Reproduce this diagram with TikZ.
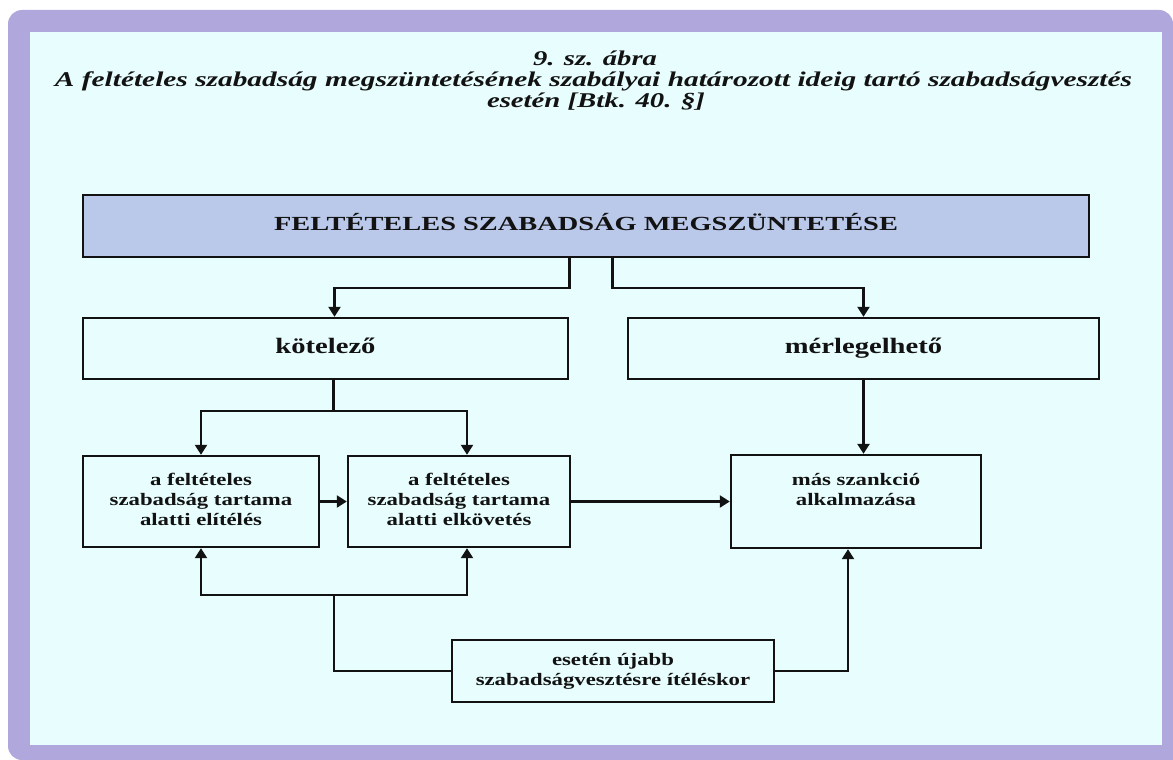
\documentclass[tikz,border=0pt]{standalone}
\usepackage{fontspec}
\setmainfont{Liberation Serif}
\usepackage{graphicx}
\usetikzlibrary{arrows.meta}
\definecolor{lav}{RGB}{176,168,221}
\definecolor{bgc}{RGB}{232,254,254}
\definecolor{topc}{RGB}{186,200,234}
\definecolor{ink}{RGB}{18,18,18}
\newcommand\wtxt[2][1.3]{\scalebox{#1}[1]{\begin{tabular}{@{}c@{}}#2\end{tabular}}}
\tikzset{
  box/.style={draw=ink, line width=2.4pt, fill=bgc, inner sep=0pt, text=ink},
  lbl/.style={font=\fontsize{22}{26}\selectfont\bfseries},
  sml/.style={font=\fontsize{17.5}{20}\selectfont\bfseries},
  arr/.style={draw=ink, line width=2.3pt, -{Triangle[length=10pt,width=12pt]}},
  ttl/.style={font=\fontsize{21}{24}\selectfont\bfseries\itshape, text=ink, inner sep=0pt}
}
\begin{document}
\begin{tikzpicture}[x=1pt,y=-1pt]
\useasboundingbox (0,0) rectangle (1173,760);
\fill[white] (0,0) rectangle (1173,760);
\fill[lav, rounded corners=14pt] (8,10) rectangle (1173,760);
\fill[lav] (1100,700) rectangle (1173,760);
\fill[bgc] (30,32) rectangle (1162,745);
% title
\node[ttl] (t1) at (595,58) {\resizebox{124pt}{\height}{9. sz. ábra}};
\node[ttl] (t2) at (593.5,81) {\resizebox{1077pt}{\height}{A feltételes szabadság megszüntetésének szabályai határozott ideig tartó szabadságvesztés}};
\node[ttl] (t3) at (596,102) {\resizebox{218pt}{\height}{esetén [Btk. 40. §]}};
% boxes
\node[box, fill=topc, minimum width=1006pt, minimum height=62pt, font=\fontsize{20}{24}\selectfont\bfseries] (top) at (586,226) {\wtxt[1.42]{FELTÉTELES SZABADSÁG MEGSZÜNTETÉSE}};
\node[box, lbl, minimum width=485pt, minimum height=61pt] (kot) at (325.5,348.5) {\wtxt{kötelező}};
\node[box, lbl, minimum width=471pt, minimum height=61pt] (mer) at (863.5,348.5) {\wtxt{mérlegelhető}};
\node[box, sml, minimum width=236pt, minimum height=91pt] (a) at (201,501.5) {\wtxt{a feltételes\\szabadság tartama\\alatti elítélés}};
\node[box, sml, minimum width=222pt, minimum height=91pt] (b) at (459,501.5) {\wtxt{a feltételes\\szabadság tartama\\alatti elkövetés}};
\node[box, sml, minimum width=250pt, minimum height=93pt] (mas) at (856,501.5) {\wtxt{más szankció\\alkalmazása\\\mbox{}}};
\node[box, sml, minimum width=322pt, minimum height=62pt] (u) at (613,671) {\wtxt{esetén újabb\\szabadságvesztésre ítéléskor}};
% connectors
\draw[arr] ([xshift=-16.5pt]top.south) -- ++(0,30) -| ([xshift=9pt]kot.north);
\draw[arr] ([xshift=26.5pt]top.south) -- ++(0,30) -| (mer.north);
\draw[arr] ([xshift=8pt]kot.south) -- ++(0,31) -| (a.north);
\draw[arr] ([xshift=8pt]kot.south) -- ++(0,31) -| ([xshift=8pt]b.north);
\draw[arr] (a.east) -- (b.west);
\draw[arr] (b.east) -- (mas.west);
\draw[arr, line width=3.4pt] (mer.south) -- (mer.south |- mas.north);
\coordinate (jb) at (334,595);
\draw[arr] (u.west) -| (jb) -| (a.south);
\draw[arr] (jb) -| ([xshift=8pt]b.south);
\draw[arr] (u.east) -| ([xshift=-8pt]mas.south);
\end{tikzpicture}
\end{document}
